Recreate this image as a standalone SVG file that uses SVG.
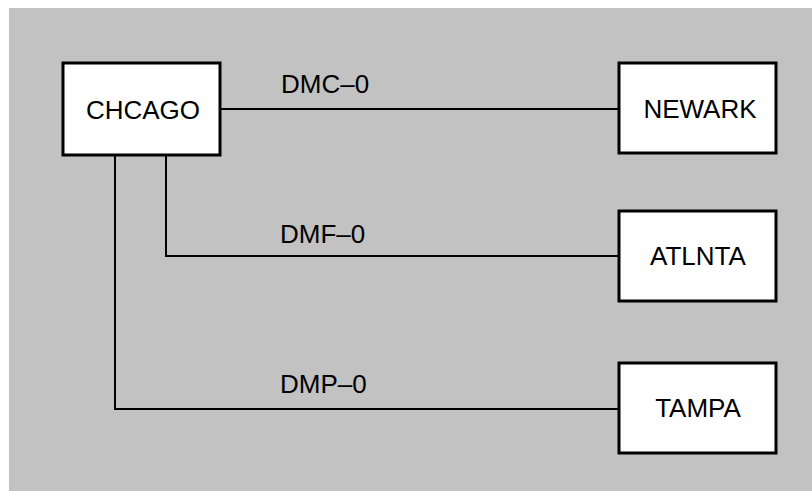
<svg xmlns="http://www.w3.org/2000/svg" width="812" height="491" viewBox="0 0 812 491">
<style>
.box{fill:#ffffff;stroke:#000000;stroke-width:3}
.lbl{font-family:"Liberation Sans",Arial,sans-serif;font-size:26px;fill:#000000;text-anchor:middle}
.elbl{font-family:"Liberation Sans",Arial,sans-serif;font-size:26px;fill:#000000}
.conn{fill:none;stroke:#000000;stroke-width:2}
</style>
<rect x="0" y="0" width="812" height="491" fill="#ffffff"/>
<rect x="9" y="8" width="803" height="483" fill="#c2c2c2"/>
<g id="connectors">
<path class="conn" d="M221,109 H618"/>
<path class="conn" d="M166,155 V256 H619"/>
<path class="conn" d="M115,155 V409 H619"/>
<text class="elbl" x="281" y="93">DMC–0</text>
<text class="elbl" x="280" y="243">DMF–0</text>
<text class="elbl" x="280" y="393">DMP–0</text>
</g>
<g id="chcago">
<rect class="box" x="63" y="63" width="157" height="92"/>
<text class="lbl" x="143" y="119">CHCAGO</text>
</g>
<g id="newark">
<rect class="box" x="619" y="63" width="157" height="90"/>
<text class="lbl" x="700" y="118">NEWARK</text>
</g>
<g id="atlnta">
<rect class="box" x="619" y="211" width="157" height="90"/>
<text class="lbl" x="698" y="265">ATLNTA</text>
</g>
<g id="tampa">
<rect class="box" x="619" y="363" width="157" height="90"/>
<text class="lbl" x="698" y="417">TAMPA</text>
</g>
</svg>
